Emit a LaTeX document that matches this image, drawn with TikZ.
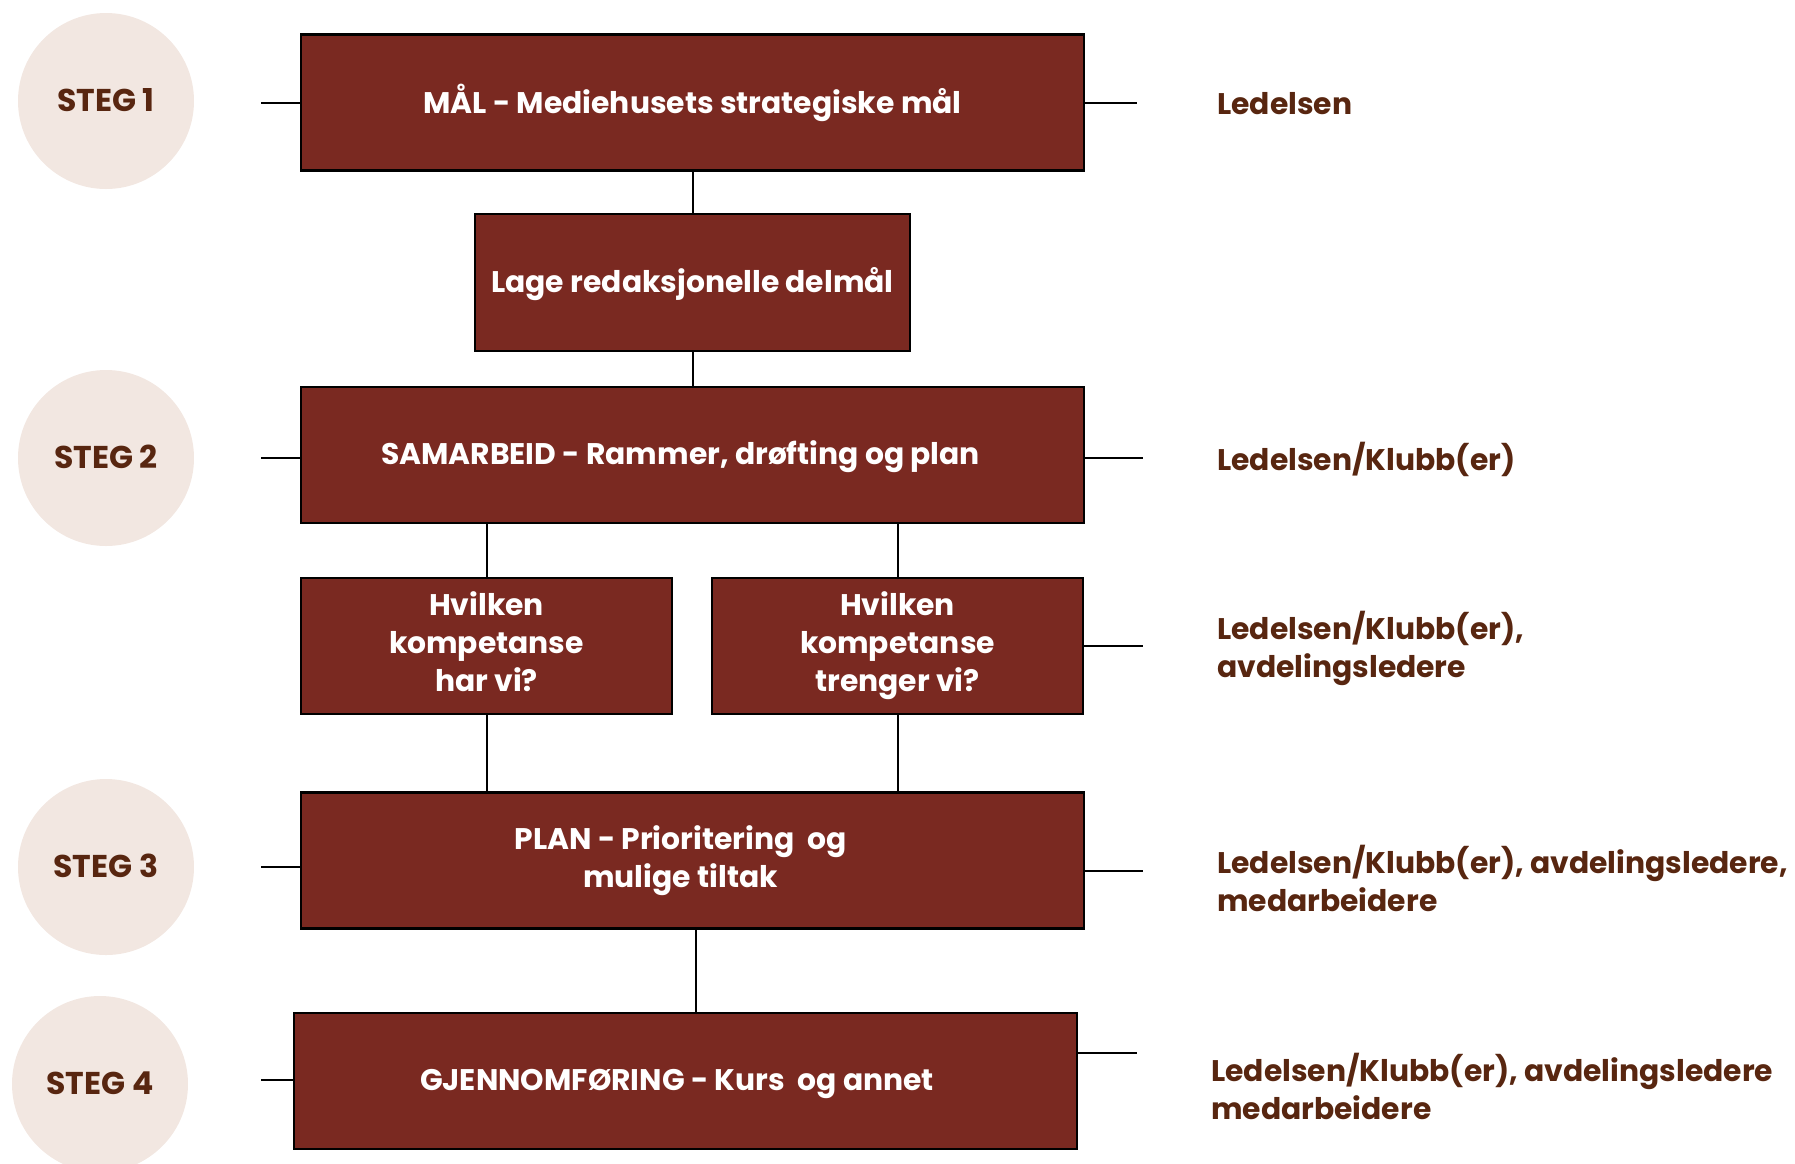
\documentclass[tikz,border=0pt]{standalone}
\usepackage{fontspec}
\setmainfont{Poppins}
\usepackage{tikz}
\usetikzlibrary{positioning}
\definecolor{boxred}{RGB}{122,41,33}
\definecolor{circlebeige}{RGB}{242,231,225}
\definecolor{textbrown}{RGB}{88,38,16}
\newcommand\linestrut{\rule[-8pt]{0pt}{36pt}}
\tikzset{
  base/.style={font=\bfseries\fontsize{29.8}{38}\selectfont, align=center, inner sep=0pt,
    execute at begin node=\linestrut, execute at end node=\linestrut},
  stepbox/.style={base, rectangle, draw=black, fill=boxred, text=white, line width=2.5pt},
  widebox/.style={stepbox, minimum width=783pt, minimum height=136pt},
  halfbox/.style={stepbox, minimum width=371pt, minimum height=136pt},
  stegcirc/.style={base, circle, fill=circlebeige, text=textbrown, minimum size=176pt,
    font=\bfseries\fontsize{31.5}{38}\selectfont},
  role/.style={base, align=left, anchor=west, text=textbrown},
  link/.style={line width=2pt, draw=black},
}
\begin{document}
\begin{tikzpicture}[x=1pt,y=-1pt]
  \useasboundingbox (0,0) rectangle (1795,1163);
  % steps on the left
  \foreach \n/\y in {1/101,2/458,3/867}{
    \node[stegcirc] (steg\n) at (106,\y) {STEG \n};
  }
  \node[stegcirc] (steg4) at (100,1084) {STEG 4};
  % boxes
  \node[widebox] (mal) at (692.5,102.5) {MÅL - Mediehusets strategiske mål};
  \node[stepbox, minimum width=435pt, minimum height=137pt] (delmal) at (692.5,282.5) {Lage redaksjonelle delmål};
  \node[widebox] (samarbeid) at (692.5,455) {SAMARBEID - Rammer, drøfting og plan\hspace*{24pt}};
  \node[halfbox] (harvi) at (486.5,646) {Hvilken\\kompetanse\\har vi?};
  \node[halfbox] (trengervi) at (897.5,646) {Hvilken\\kompetanse\\trenger vi?};
  \node[widebox] (plan) at (692.5,860.5) {PLAN - Prioritering~ og\hspace*{24pt}\\mulige tiltak\hspace*{24pt}};
  \node[widebox] (gjennom) at (685.5,1081) {GJENNOMFØRING - Kurs~ og annet\hspace*{17pt}};
  % roles on the right
  \node[role] (role1) at (1217,104) {Ledelsen};
  \node[role] (role2) at (1217,460) {Ledelsen/Klubb(er)};
  \node[role] (role3) at (1217,648) {Ledelsen/Klubb(er),\\avdelingsledere};
  \node[role] (role4) at (1217,882) {Ledelsen/Klubb(er), avdelingsledere,\\medarbeidere};
  \node[role] (role5) at (1211,1090) {Ledelsen/Klubb(er), avdelingsledere\\medarbeidere};
  % vertical links
  \draw[link] (mal) -- (delmal);
  \draw[link] (delmal) -- (samarbeid);
  \draw[link] (harvi.north) -- (harvi.north |- samarbeid.south);
  \draw[link] (trengervi.north) -- (trengervi.north |- samarbeid.south);
  \draw[link] (harvi.south) -- (harvi.south |- plan.north);
  \draw[link] (trengervi.south) -- (trengervi.south |- plan.north);
  \coordinate (planout) at (696,0);
  \draw[link] (planout |- plan.south) -- (planout |- gjennom.north);
  % stubs
  \foreach \b/\y in {mal/102.5,samarbeid/458,plan/867,gjennom/1080}{
    \coordinate (lstub\b) at (261,\y);
    \draw[link] (lstub\b) -- (lstub\b -| \b.west);
  }
  \foreach \b/\x/\y in {mal/1137/102.5,samarbeid/1143/458,trengervi/1143/646,plan/1143/871,gjennom/1137/1053}{
    \coordinate (rstub\b) at (\x,\y);
    \draw[link] (rstub\b -| \b.east) -- (rstub\b);
  }
\end{tikzpicture}
\end{document}
